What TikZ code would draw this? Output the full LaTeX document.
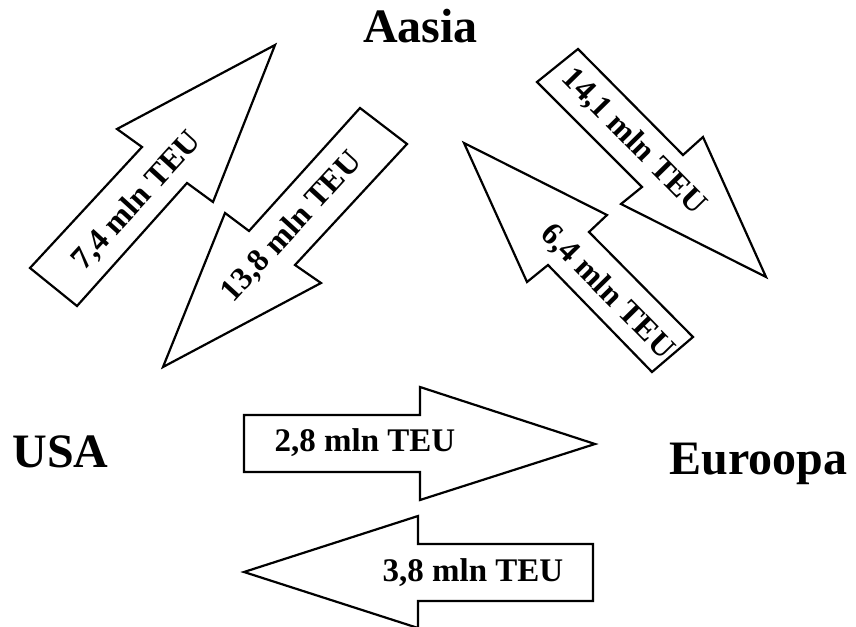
\documentclass[tikz,border=0pt]{standalone}
\usepackage{fontspec}
\setmainfont{Liberation Serif}

\tikzset{
  nool/.style={draw, line width=2.2pt, line join=miter},
  silt/.style={font=\fontsize{33}{33}\selectfont\bfseries, inner sep=0pt},
  diagsilt/.style={font=\fontsize{32}{32}\selectfont\bfseries, inner sep=0pt},
  paik/.style={font=\fontsize{48}{48}\selectfont\bfseries, inner sep=0pt, anchor=base}
}

\begin{document}
\begin{tikzpicture}[x=1pt,y=-1pt]
	\useasboundingbox (0,0) rectangle (856,626);
    \node[paik] (aasia) at (420.5,43) {Aasia};
    \node[paik] (usa) at (60.5,467) {USA};
    \node[paik] (euroopa) at (758.5,474) {Euroopa};
        %Aasia ja USA vahel
    \draw[nool](30,268)--(142,147)--(117,129)--(275,45)--(213,202)--(187,183)--(77,306)--cycle;
    \draw[nool](360,108)--(249,231)--(225,213)--(163,367)--(321,283)--(295,265)--(407,144)--cycle;
    \node[diagsilt, rotate=47.6] (usaaasia) at (137,201) {7,4 mln TEU};
    \node[diagsilt, rotate=47.5] (aasiausa) at (292,227) {13,8 mln TEU};
        %Aasia ja Euroopa vahel
    \draw[nool](578,49)--(683,155)--(703,137)--(766,277)--(621,204)--(642,187)--(537,82)--cycle;
    \draw[nool](464,143)--(607,215)--(589,232)--(693,337)--(652,372)--(548,265)--(527,282)--cycle;
    \node[diagsilt, rotate=-45.5] (aasiaeuroopa) at (634,142) {14,1 mln TEU};
    \node[diagsilt, rotate=-45.5] (euroopaaasia) at (607,292) {6,4 mln TEU};
        %USA ja Euroopa vahel
    \draw[nool](244,415)--(420,415)--(420,387)--(595,444)--(420,500)--(420,472)--(244,472)--cycle;
    \draw[nool](593,544)--(418,544)--(418,516)--(244,572)--(418,628)--(418,601)--(593,601)--cycle;
    \node[silt] (usaeuroopa) at (365,443) {2,8 mln TEU};
    \node[silt] (euroopausa) at (473,573) {3,8 mln TEU};
\end{tikzpicture}
\end{document}
